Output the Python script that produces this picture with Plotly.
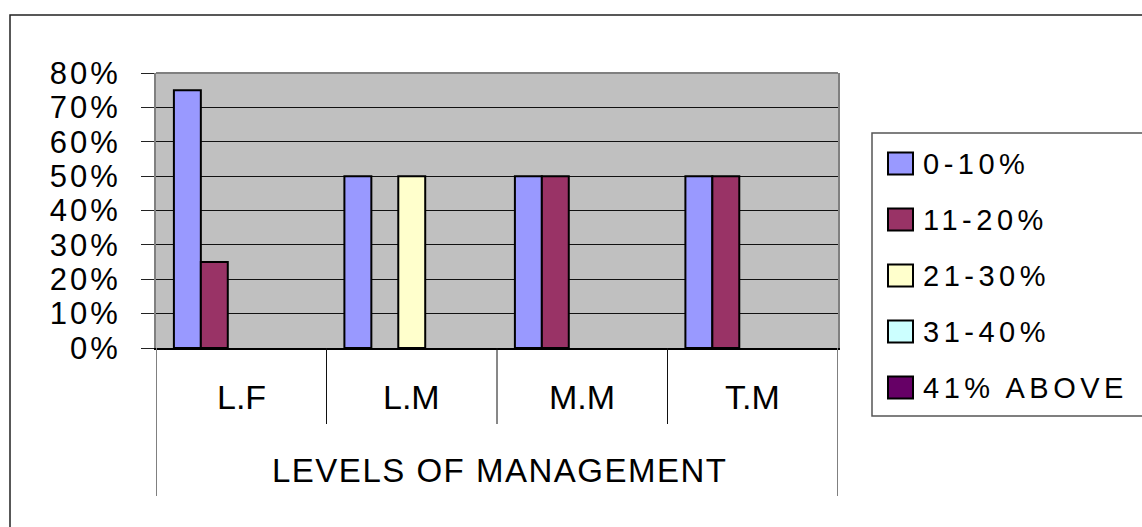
import plotly.graph_objects as go

# Share of respondents per level of management, by range
categories = ["L.F", "L.M", "M.M", "T.M"]
series_names = ["0-10%", "11-20%", "21-30%", "31-40%", "41% ABOVE"]
values_0_10 = [75, 50, 50, 50]
values_11_20 = [25, 0, 50, 50]
values_21_30 = [0, 50, 0, 0]
values_31_40 = [0, 0, 0, 0]
values_41_above = [0, 0, 0, 0]
series_values = [values_0_10, values_11_20, values_21_30, values_31_40, values_41_above]
series_colors = ["#9999FF", "#993366", "#FFFFCC", "#CCFFFF", "#660066"]
y_tick_values = [0, 10, 20, 30, 40, 50, 60, 70, 80]
y_tick_labels = ["0%", "10%", "20%", "30%", "40%", "50%", "60%", "70%", "80%"]
axis_title = "LEVELS OF MANAGEMENT"

W, H = 1142, 527
L, R, T, B = 156, 304, 73, 179
PW, PH = W - L - R, H - T - B
FONT = "Liberation Sans, Arial, sans-serif"


def px_x(px):
    return (px - L) / PW


def px_y(py):
    return (H - B - py) / PH


def spaced(text, sp):
    return f'<span style="letter-spacing:{sp}px">{text}</span>'


fig = go.Figure()
for name, vals, col in zip(series_names, series_values, series_colors):
    # empty bars get no outline so nothing is stroked along the axis
    outline = [2 if v > 0 else 0 for v in vals]
    fig.add_trace(go.Bar(
        x=categories, y=vals, name=name,
        marker=dict(color=col, line=dict(color="black", width=outline)),
        showlegend=False,
    ))

shapes = []
# outer chart frame
shapes.append(dict(type="rect", xref="paper", yref="paper",
                   x0=px_x(10), x1=px_x(1150), y0=px_y(535), y1=px_y(15),
                   line=dict(color="#222", width=1.5), layer="below"))
# top border of the plot area
shapes.append(dict(type="line", xref="paper", yref="paper",
                   x0=0, x1=1, y0=1, y1=1,
                   line=dict(color="#808080", width=2), layer="above"))
# category separators under the axis
for xb in [0.5, 1.5, 2.5]:
    shapes.append(dict(type="line", xref="x", yref="paper",
                       x0=xb, x1=xb, y0=0, y1=px_y(424),
                       line=dict(color="#111", width=1)))
for xb in [-0.5, 3.5]:
    shapes.append(dict(type="line", xref="x", yref="paper",
                       x0=xb, x1=xb, y0=0, y1=px_y(496),
                       line=dict(color="#808080", width=2)))
# legend box
shapes.append(dict(type="rect", xref="paper", yref="paper",
                   x0=px_x(872), x1=px_x(1150), y0=px_y(416), y1=px_y(133),
                   line=dict(color="#555", width=1.5), fillcolor="white"))

annotations = []
for i, (name, col) in enumerate(zip(series_names, series_colors)):
    cy = 163.5 + 56 * i
    shapes.append(dict(type="rect", xref="paper", yref="paper",
                       x0=px_x(888), x1=px_x(913), y0=px_y(cy + 11), y1=px_y(cy - 11),
                       fillcolor=col, line=dict(color="black", width=2)))
    annotations.append(dict(xref="paper", yref="paper", x=px_x(921), y=px_y(cy),
                            xanchor="left", yanchor="middle", showarrow=False,
                            text=spaced(name, 4.5),
                            font=dict(family=FONT, size=29, color="black")))

for c in categories:
    annotations.append(dict(xref="x", yref="paper", x=c, y=px_y(397),
                            xanchor="center", yanchor="middle", showarrow=False,
                            text=c, font=dict(family=FONT, size=34, color="black")))

annotations.append(dict(xref="paper", yref="paper", x=px_x(499), y=px_y(470),
                        xanchor="center", yanchor="middle", showarrow=False,
                        text=spaced(axis_title, 1.5),
                        font=dict(family=FONT, size=33, color="black")))

fig.update_layout(
    width=W, height=H,
    margin=dict(l=L, r=R, t=T, b=B, pad=0),
    paper_bgcolor="white", plot_bgcolor="#C0C0C0",
    barmode="group", bargap=0.21, bargroupgap=0,
    shapes=shapes, annotations=annotations,
    showlegend=False,
    xaxis=dict(type="category", showticklabels=False, ticks="",
               showgrid=False, zeroline=False,
               showline=True, linecolor="black", linewidth=1.5,
               range=[-0.5, 3.5], fixedrange=True),
    yaxis=dict(range=[0, 80], tickvals=y_tick_values,
               ticktext=[spaced(t, 3) for t in y_tick_labels],
               ticks="outside", ticklen=13, tickcolor="#222", tickwidth=1,
               ticklabelstandoff=14,
               tickfont=dict(family=FONT, size=31, color="black"),
               showgrid=True, gridcolor="#111", gridwidth=1,
               zeroline=False,
               showline=True, linecolor="#808080", linewidth=2, mirror=True,
               fixedrange=True),
)

fig.write_html("out.html")
